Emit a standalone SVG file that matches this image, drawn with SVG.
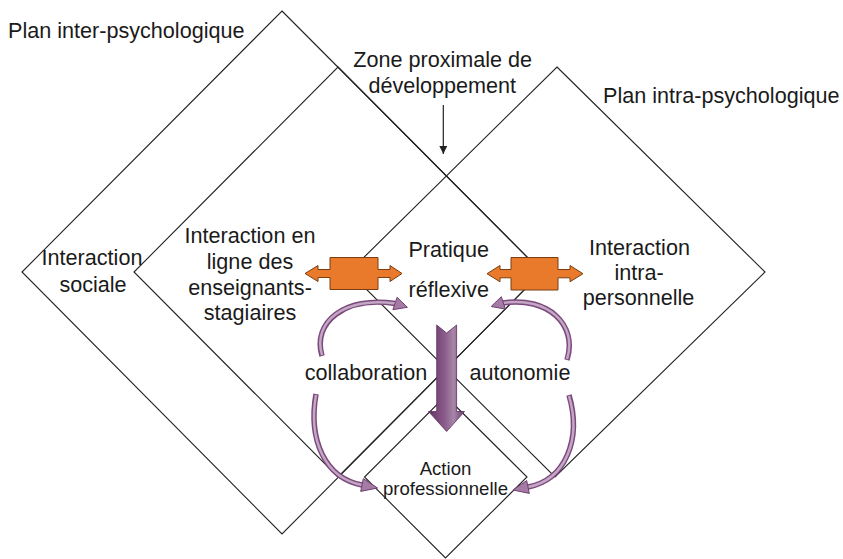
<svg xmlns="http://www.w3.org/2000/svg" width="843" height="559" viewBox="0 0 843 559">
<defs>
<style>
.dia{fill:none;stroke:#222;stroke-width:1.1}
.t{font-family:"Liberation Sans",Arial,Helvetica,sans-serif;font-size:21.6px;fill:#1a1a1a}
.s{font-size:18.6px}
.m{text-anchor:middle}
.orange{fill:#E97A2B;stroke:#7a3e10;stroke-width:1}
.band-o{fill:none;stroke:#7b4a7d;stroke-width:5.5;stroke-linecap:butt}
.band-i{fill:none;stroke:#c4a6c5;stroke-width:2.5;stroke-linecap:butt}
.head{fill:#a47ba5;stroke:#6f3f71;stroke-width:1}
</style>
<linearGradient id="pg" x1="0" y1="0" x2="1" y2="0">
<stop offset="0" stop-color="#633365"/>
<stop offset="0.45" stop-color="#8a5c8b"/>
<stop offset="0.7" stop-color="#a786a8"/>
<stop offset="1" stop-color="#6a3b6c"/>
</linearGradient>
<marker id="ah" viewBox="0 0 10 10" refX="10" refY="5" markerWidth="8" markerHeight="8" markerUnits="userSpaceOnUse" orient="auto">
<path d="M0,0 L10,5 L0,10 z" fill="#222"/>
</marker>
</defs>
<rect width="843" height="559" fill="#fff"/>

<g id="plan-inter">
<polygon class="dia" points="282,11 542,272 282,534 22,272"/>
<text class="t" x="8" y="38">Plan inter-psychologique</text>
<text class="t m" x="92" y="265">Interaction</text>
<text class="t m" x="93" y="291.5">sociale</text>
</g>

<g id="interaction-en-ligne">
<polygon class="dia" points="338,67 542,272 338,477 134,272"/>
<text class="t m" x="250" y="242.5">Interaction en</text>
<text class="t m" x="250" y="268.5">ligne des</text>
<text class="t m" x="250" y="294.5">enseignants-</text>
<text class="t m" x="250" y="320">stagiaires</text>
</g>

<g id="plan-intra">
<polygon class="dia" points="557,67 765,272 555,477 349,272"/>
<text class="t" x="603" y="102.5">Plan intra-psychologique</text>
<text class="t m" x="639.5" y="255">Interaction</text>
<text class="t m" x="639" y="280">intra-</text>
<text class="t m" x="638.5" y="305">personnelle</text>
</g>

<g id="action-professionnelle">
<polygon class="dia" points="445.5,396 527,477 445.5,558 364.5,477"/>
</g>

<g id="zone-proximale">
<text class="t m" x="442.7" y="66.5">Zone proximale de</text>
<text class="t m" x="442.3" y="93">développement</text>
</g>

<g id="connectors">
<line x1="443.3" y1="105" x2="443.3" y2="154" stroke="#222" stroke-width="1.2" marker-end="url(#ah)"/>

<polygon class="orange" points="330,257.5 378,257.5 378,269.5 390,269.5 390,265.5 402,273.5 390,281.5 390,277.5 378,277.5 378,289.5 330,289.5 330,277.5 318,277.5 318,281.5 305,273.5 318,265.5 318,269.5 330,269.5"/>
<polygon class="orange" points="511,257.5 558,257.5 558,269.5 570,269.5 570,265.5 583,273.7 570,281.8 570,277.8 558,277.8 558,290 511,290 511,277.8 500,277.8 500,281.8 487,273.7 500,265.5 500,269.5 511,269.5"/>

<polygon points="436.7,325 446.6,333 456.6,325 456.6,411.5 464.5,411.5 446.6,431.5 428.6,411.5 436.7,411.5" fill="url(#pg)" stroke="#5d2e5f" stroke-width="0.8"/>

<path class="band-o" d="M322,356 C312,322 345,296 395,303.5"/>
<path class="band-i" d="M322,355 C312,322 345,296 395,303.5"/>
<polygon class="head" points="397.1,297.3 407.4,307.3 392.9,309.7"/>

<path class="band-o" d="M567,360 C578,325 548,296 503,303"/>
<path class="band-i" d="M567,359 C578,325 548,296 503,303"/>
<polygon class="head" points="501.3,296.7 491.2,306.5 505.4,309.1"/>

<path class="band-o" d="M316,394 C308,440 325,478 362,485"/>
<path class="band-i" d="M316,395 C308,440 325,478 362,485"/>
<polygon class="head" points="363.3,478.6 377.5,488 360.7,491.4"/>

<path class="band-o" d="M569,395 C582,440 565,480 528,487"/>
<path class="band-i" d="M569,396 C582,440 565,480 528,487"/>
<polygon class="head" points="526.7,480.6 513,490 529.3,493.4"/>
</g>

<g id="pratique-reflexive">
<text class="t m" x="448.7" y="256.5">Pratique</text>
<text class="t m" x="448.7" y="296.5">réflexive</text>
</g>

<g id="collaboration">
<text class="t m" x="366" y="380">collaboration</text>
</g>
<g id="autonomie">
<text class="t m" x="520" y="380">autonomie</text>
</g>

<g id="action-label">
<text class="t s m" x="445.5" y="475">Action</text>
<text class="t s m" x="445.5" y="495">professionnelle</text>
</g>
</svg>
